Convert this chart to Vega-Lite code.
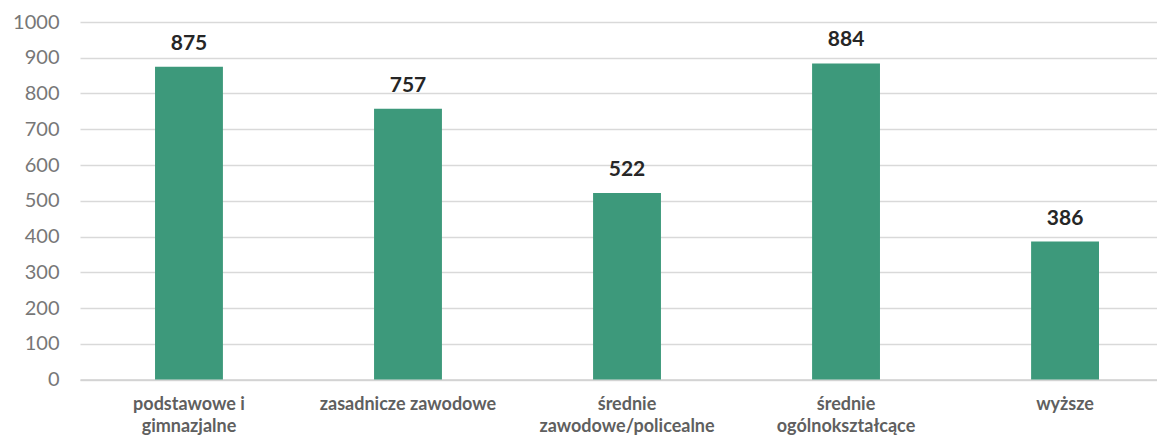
{
  "$schema": "https://vega.github.io/schema/vega-lite/v6.json",
  "autosize": "none",
  "width": 1077,
  "height": 357.5,
  "padding": {"left": 80, "top": 22, "right": 0, "bottom": 63.5},
  "background": "white",
  "data": {
    "values": [
      {"kat": "podstawowe i\ngimnazjalne", "n": 875},
      {"kat": "zasadnicze zawodowe", "n": 757},
      {"kat": "średnie\nzawodowe/policealne", "n": 522},
      {"kat": "średnie\nogólnokształcące", "n": 884},
      {"kat": "wyższe", "n": 386}
    ]
  },
  "config": {
    "view": {"stroke": null},
    "font": "Lato"
  },
  "encoding": {
    "x": {
      "field": "kat",
      "type": "nominal",
      "sort": null,
      "scale": {"paddingInner": 0.69, "paddingOuter": 0.3037, "align": 0.564},
      "axis": {
        "title": null,
        "labelAngle": 0,
        "labelExpr": "split(datum.label, '\\n')",
        "labelFont": "Lato",
        "labelFontWeight": "bold",
        "labelFontSize": 18,
        "labelColor": "#5f5f5f",
        "labelLineHeight": 22,
        "labelPadding": 16,
        "ticks": false,
        "domainColor": "#d0d0d0",
        "domainWidth": 1.5,
        "grid": false
      }
    },
    "y": {
      "field": "n",
      "type": "quantitative",
      "scale": {"domain": [0, 1000], "nice": false},
      "axis": {
        "title": null,
        "format": "d",
        "values": [0, 100, 200, 300, 400, 500, 600, 700, 800, 900, 1000],
        "labelFont": "Lato",
        "labelFontSize": 20,
        "labelColor": "#777777",
        "labelPadding": 21,
        "ticks": false,
        "domain": false,
        "gridColor": "#d9d9d9",
        "gridWidth": 1.5
      }
    }
  },
  "layer": [
    {"mark": {"type": "bar", "color": "#3d997b"}},
    {
      "mark": {"type": "text", "baseline": "bottom", "dy": -13, "fontSize": 21, "fontWeight": "bold", "color": "#262626", "font": "Lato"},
      "encoding": {"text": {"field": "n", "type": "quantitative"}}
    }
  ]
}
